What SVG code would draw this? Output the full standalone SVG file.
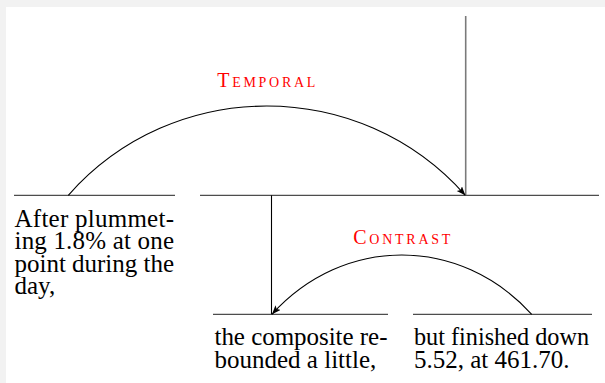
<svg xmlns="http://www.w3.org/2000/svg" width="605" height="383" viewBox="0 0 605 383">
<style>
.seg{stroke:#4d4d4d;stroke-width:1.3;fill:none}
.arc{stroke:#000;stroke-width:1.1;fill:none;marker-end:url(#ah)}
.txt{font-size:25px;fill:#000}
.lab{fill:#ff0000}
</style>
<defs>
<marker id="ah" markerUnits="userSpaceOnUse" markerWidth="12" markerHeight="10" refX="9" refY="3.5" orient="auto">
<path d="M0,0 L9,3.5 L0,7 L2,3.5 z" fill="#000"/>
</marker>
</defs>
<rect x="0" y="0" width="605" height="383" fill="#ffffff"/>
<rect x="0" y="0" width="605" height="7" fill="#f2f2f2"/>
<rect x="0" y="0" width="6" height="383" fill="#f2f2f2"/>

<g id="node-after" font-family="'Liberation Serif', 'Times New Roman', serif">
<line class="seg" x1="14" y1="195.3" x2="175" y2="195.3"/>
<text class="txt" x="14.5" y="226.7" textLength="159.5" lengthAdjust="spacing">After plummet-</text>
<text class="txt" x="14.5" y="249.2" textLength="159.5" lengthAdjust="spacing">ing 1.8% at one</text>
<text class="txt" x="14.5" y="271.7" textLength="159.5" lengthAdjust="spacing">point during the</text>
<text class="txt" x="14.5" y="294.2">day,</text>
</g>

<g id="node-span">
<line class="seg" x1="200" y1="195.3" x2="599" y2="195.3"/>
<line x1="465.7" y1="16" x2="465.7" y2="195.3" stroke="#7a7a7a" stroke-width="1.6"/>
</g>

<g id="node-composite" font-family="'Liberation Serif', 'Times New Roman', serif">
<line class="seg" x1="213" y1="314.3" x2="388" y2="314.3"/>
<text class="txt" x="214.5" y="345" textLength="173" lengthAdjust="spacing">the composite re-</text>
<text class="txt" x="214.5" y="367.5">bounded a little,</text>
</g>

<g id="node-finished" font-family="'Liberation Serif', 'Times New Roman', serif">
<line class="seg" x1="413" y1="314.3" x2="592" y2="314.3"/>
<text class="txt" x="414" y="345" textLength="175" lengthAdjust="spacingAndGlyphs">but finished down</text>
<text class="txt" x="414" y="367.5">5.52, at 461.70.</text>
</g>

<g id="connectors" font-family="'Liberation Serif', 'Times New Roman', serif">
<line x1="271.5" y1="195.3" x2="271.5" y2="314.3" stroke="#000" stroke-width="1.1"/>
<path class="arc" d="M68.3,195.3 C173.3,76.3 360,76.3 465.3,195.3"/>
<path class="arc" d="M531.7,314.3 C459.7,235.3 343.7,235.3 272,314.3"/>
<text class="lab" x="217.3" y="87.3" textLength="98" lengthAdjust="spacing"><tspan font-size="20">T</tspan><tspan font-size="14">EMPORAL</tspan></text>
<text class="lab" x="353.3" y="244.3" textLength="97" lengthAdjust="spacing"><tspan font-size="20">C</tspan><tspan font-size="14">ONTRAST</tspan></text>
</g>
</svg>
